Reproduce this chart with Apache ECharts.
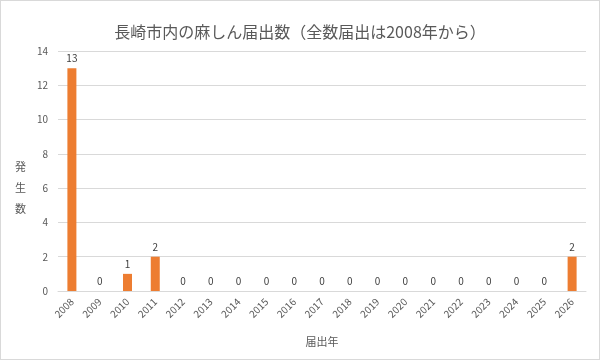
<!DOCTYPE html>
<html>
<head>
<meta charset="utf-8">
<script src="https://cdn.jsdelivr.net/npm/echarts@6/dist/echarts.min.js"></script>
<style>
  html, body { margin: 0; padding: 0; background: #fff; }
  #chart { width: 598px; height: 358px; border: 1px solid #d9d9d9; }
</style>
</head>
<body>
<div id="chart"></div>
<script>
const years = ['2008', '2009', '2010', '2011', '2012', '2013', '2014', '2015', '2016', '2017',
  '2018', '2019', '2020', '2021', '2022', '2023', '2024', '2025', '2026'];
const counts = [13, 0, 1, 2, 0, 0, 0, 0, 0, 0, 0, 0, 0, 0, 0, 0, 0, 0, 2];

const chart = echarts.init(document.getElementById('chart'));
const font = '"Noto Sans CJK JP", "Noto Sans", sans-serif';

chart.setOption({
  animation: false,
  textStyle: { fontFamily: font },
  title: {
    text: '長崎市内の麻しん届出数（全数届出は2008年から）',
    left: 'center',
    top: 18,
    textStyle: { fontSize: 16, fontWeight: 'normal', color: '#595959', fontFamily: font }
  },
  // vertical y-axis title, placed like the original (a bit below the middle)
  graphic: [{
    type: 'text',
    left: 14,
    top: 155,
    style: {
      text: '発\n生\n数',
      fontSize: 11,
      lineHeight: 21,
      fill: '#595959',
      fontFamily: font
    }
  }],
  grid: { left: 57, right: 13, top: 50, bottom: 68 },
  xAxis: {
    type: 'category',
    data: years,
    name: '届出年',
    nameLocation: 'middle',
    nameGap: 45,
    nameTextStyle: { fontSize: 11, color: '#595959' },
    axisLine: { lineStyle: { color: '#d9d9d9' } },
    axisTick: { show: false },
    axisLabel: { rotate: 45, fontSize: 10, color: '#595959', margin: 9, interval: 0 }
  },
  yAxis: {
    type: 'value',
    min: 0,
    max: 14,
    interval: 2,
    axisLabel: { fontSize: 10, color: '#595959', margin: 10 },
    splitLine: { lineStyle: { color: '#d9d9d9' } }
  },
  series: [{
    type: 'bar',
    data: counts,
    barWidth: 9,
    itemStyle: { color: '#ED7D31' },
    label: { show: true, position: 'top', fontSize: 10, color: '#404040', distance: 5 }
  }]
});
</script>
</body>
</html>
